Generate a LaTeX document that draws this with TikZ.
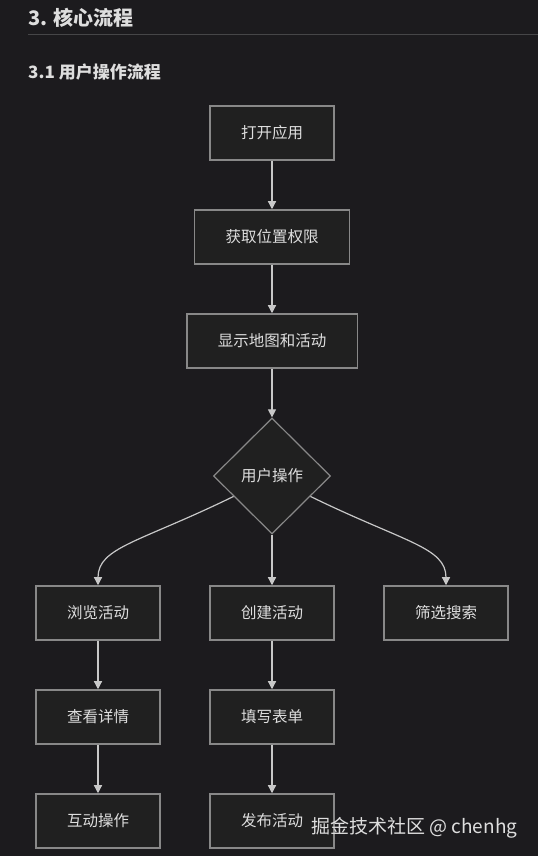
\documentclass[tikz,border=0pt]{standalone}
\usepackage{fontspec}
\setmainfont{Noto Sans CJK SC}
\usetikzlibrary{arrows.meta, shapes.geometric, positioning}
\definecolor{bgDark}{RGB}{28,27,30}
\definecolor{boxFill}{RGB}{32,32,32}
\definecolor{boxGray}{RGB}{136,136,136}
\definecolor{lineGray}{RGB}{200,200,200}
\definecolor{textGray}{RGB}{222,222,222}
\definecolor{ruleGray}{RGB}{70,70,72}

\tikzset{
  flowbox/.style={draw=boxGray, fill=boxFill, line width=1.5pt, text=textGray,
    font=\fontsize{15.5}{18}\selectfont, inner xsep=31pt, minimum height=54pt},
  choice/.style={diamond, draw=boxGray, fill=boxFill, line width=1.2pt, text=textGray,
    font=\fontsize{15.5}{18}\selectfont, minimum width=117pt, minimum height=116pt, inner sep=0pt},
  flow/.style={draw=lineGray, line width=1.2pt, -{Triangle[length=8pt, width=8pt]}}
}

\begin{document}
\begin{tikzpicture}[x=1pt, y=1pt]
  % page  538 x 856, y counted from bottom
  \fill[bgDark] (0,0) rectangle (538,856);
  \useasboundingbox (0,0) rectangle (538,856);
  % headings
  \node[anchor=west, text=textGray, inner sep=0pt, font=\fontsize{20}{24}\selectfont\bfseries] (h3) at (28,838) {3. 核心流程};
  \draw[ruleGray, line width=1pt] (28,821) -- (538,821);
  \node[anchor=west, text=textGray, inner sep=0pt, font=\fontsize{17}{20}\selectfont\bfseries] (h31) at (28,784) {3.1 用户操作流程};
  % main column
  \node[flowbox] (open) at (272,723) {打开应用};
  \node[flowbox] (perm) at (272,619) {获取位置权限};
  \node[flowbox] (map)  at (272,515) {显示地图和活动};
  \node[choice]  (op)   at (272,380) {用户操作};
  % three branches
  \node[flowbox] (browse) at (98,243)  {浏览活动};
  \node[flowbox] (create) at (272,243) {创建活动};
  \node[flowbox] (filter) at (446,243) {筛选搜索};
  \node[flowbox] (detail)   at (98,139)  {查看详情};
  \node[flowbox] (form)     at (272,139) {填写表单};
  \node[flowbox] (interact) at (98,35)   {互动操作};
  \node[flowbox] (publish)  at (272,35)  {发布活动};
  % connectors
  \draw[flow] (open) -- (perm);
  \draw[flow] (perm) -- (map);
  \draw[flow] (map) -- (op);
  \draw[flow] (op.208) .. controls +(206:105) and +(90:38) .. (browse.north);
  \draw[flow] (op.south) -- (create.north);
  \draw[flow] (op.-28) .. controls +(-26:105) and +(90:38) .. (filter.north);
  \draw[flow] (browse) -- (detail);
  \draw[flow] (detail) -- (interact);
  \draw[flow] (create) -- (form);
  \draw[flow] (form) -- (publish);
  % watermark
  \node[anchor=west, text=textGray, inner sep=0pt, font=\fontsize{19}{22}\selectfont] (mark) at (311,28) {掘金技术社区 @ chenhg};
\end{tikzpicture}
\end{document}
